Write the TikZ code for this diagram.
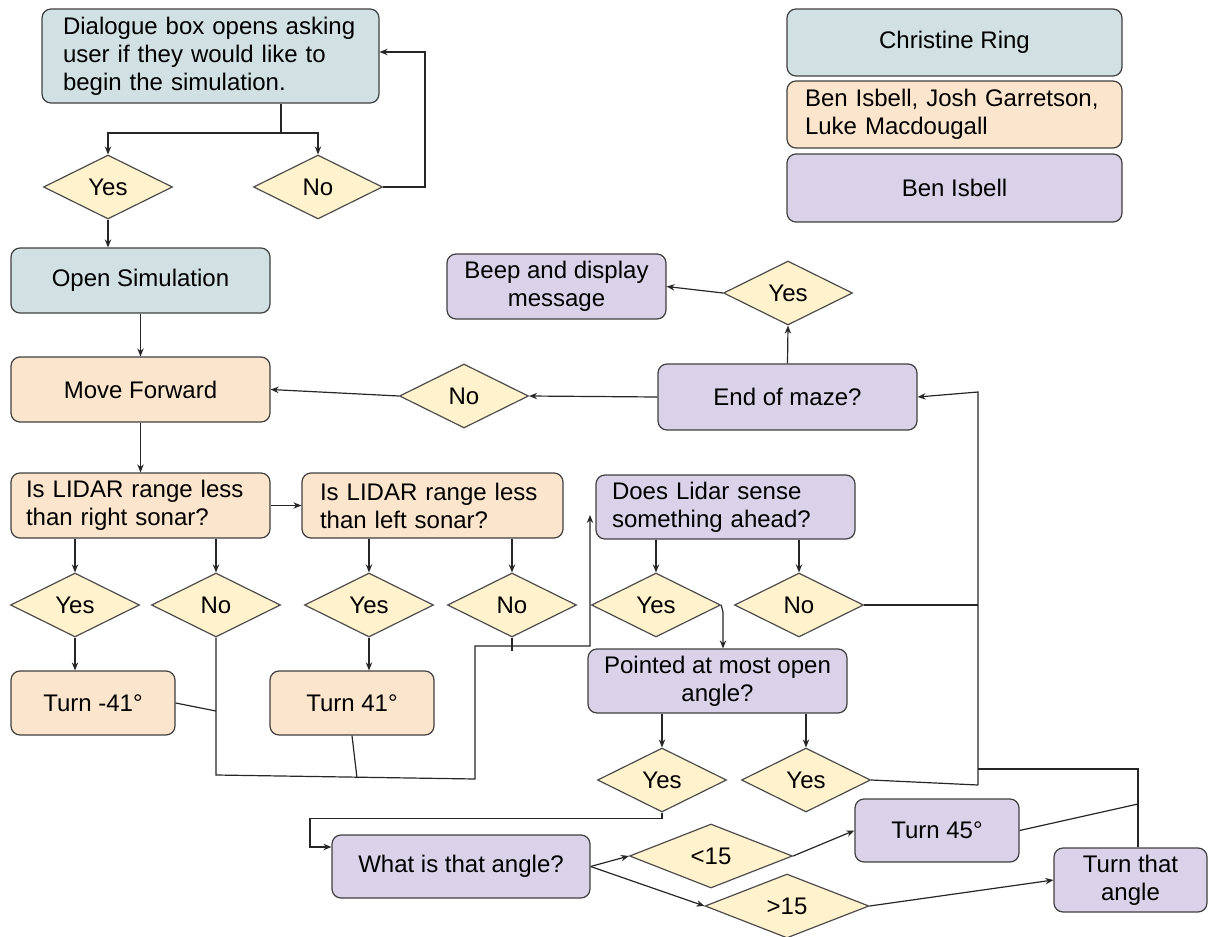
\documentclass[tikz,border=0pt]{standalone}
\usepackage{fontspec}
\setmainfont{Liberation Sans}
\usepackage{tikz}
\usetikzlibrary{arrows.meta, shapes.geometric}
\definecolor{boxblue}{HTML}{D0E0E3}
\definecolor{boxorange}{HTML}{FCE5CD}
\definecolor{boxpurple}{HTML}{D9D2E9}
\definecolor{choicefill}{HTML}{FFF2CC}

\begin{document}
\begin{tikzpicture}[x=0.5pt, y=-0.5pt,
    font=\fontsize{12}{14}\selectfont, line width=0.6pt,
    >={Stealth[length=4pt,width=3.2pt]},
    bluebox/.style={draw=black!75, fill=boxblue, rounded corners=4.5pt, inner ysep=2pt},
    orangebox/.style={draw=black!75, fill=boxorange, rounded corners=4.5pt, inner ysep=2pt},
    purplebox/.style={draw=black!75, fill=boxpurple, rounded corners=4.5pt, inner ysep=2pt},
    choice/.style={diamond, draw=black!70, fill=choicefill, inner sep=0pt,
      minimum width=64.5pt, minimum height=32pt},
    link/.style={draw=black!85}]
  \useasboundingbox (0,0) rectangle (1211,937);
  \node[bluebox, minimum width=167.5pt, minimum height=33.5pt] (key1) at (954.5,42.5) {Christine Ring};
  \node[orangebox, text width=149.5pt, inner xsep=9pt, minimum height=33.5pt, align=left] (key2) at (954.5,114.5) {Ben Isbell, Josh Garretson,\\Luke Macdougall};
  \node[purplebox, minimum width=167.5pt, minimum height=34pt] (key3) at (954.5,188) {Ben Isbell};
  \node[bluebox, text width=147.5pt, inner xsep=10.5pt, minimum height=47pt, align=left] (dlg) at (210.5,56) {Dialogue box opens asking\\user if they would like to\\begin the simulation.};
  \node[choice] (yes1) at (108,187) {Yes};
  \node[choice] (no1) at (318,187) {No};
  \node[bluebox, minimum width=129.5pt, minimum height=32.5pt] (open) at (140.5,280.5) {Open Simulation};
  \node[orangebox, minimum width=129.5pt, minimum height=32.5pt] (move) at (140.5,389.5) {Move Forward};
  \node[choice] (no2) at (464,396) {No};
  \node[purplebox, minimum width=129.5pt, minimum height=33pt] (maze) at (787.5,397) {End of maze?};
  \node[choice] (yes2) at (788,293) {Yes};
  \node[purplebox, minimum width=109.5pt, minimum height=32.5pt, align=center] (beep) at (556.5,286.5) {Beep and display\\message};
  \node[orangebox, text width=114.5pt, inner xsep=7.5pt, minimum height=32.5pt, align=left] (lidarr) at (140.5,505.5) {Is LIDAR range less\\than right sonar?};
  \node[orangebox, text width=112.5pt, inner xsep=9pt, minimum height=32.5pt, align=left] (lidarl) at (432.5,505.5) {Is LIDAR range less\\than left sonar?};
  \node[choice] (ryes) at (75,605) {Yes};
  \node[choice] (rno) at (216,605) {No};
  \node[choice] (lyes) at (369,605) {Yes};
  \node[choice] (lno) at (512,605) {No};
  \node[orangebox, minimum width=82pt, minimum height=32pt] (turnr) at (93,703) {Turn -41°};
  \node[orangebox, minimum width=82pt, minimum height=32pt] (turnl) at (352,703) {Turn 41°};
  \node[purplebox, text width=113.5pt, inner xsep=8pt, minimum height=32pt, align=left] (ahead) at (725.5,507) {Does Lidar sense\\something ahead?};
  \node[choice] (ayes) at (656,605) {Yes};
  \node[choice] (ano) at (799,605) {No};
  \node[purplebox, minimum width=129.5pt, minimum height=32pt, align=center] (pointed) at (717.5,681) {Pointed at most open\\angle?};
  \node[choice] (pyes1) at (662,780) {Yes};
  \node[choice] (pyes2) at (806,780) {Yes};
  \node[purplebox, minimum width=129pt, minimum height=31.5pt] (angle) at (461,866.5) {What is that angle?};
  \node[choice, minimum width=81.5pt] (less) at (711,856) {<15};
  \node[choice, minimum width=82pt] (more) at (787,906) {>15};
  \node[purplebox, minimum width=82pt, minimum height=31.5pt] (turn45) at (937,830.5) {Turn 45°};
  \node[purplebox, minimum width=76.5pt, minimum height=32pt, align=center] (turnthat) at (1130.5,880) {Turn that\\angle};

  \coordinate (split) at (281,133);
  \coordinate (back) at (425,52);
  \coordinate (m1) at (216,775);
  \coordinate (m2) at (475,779);
  \coordinate (m3) at (590,646);
  \coordinate (m4) at (590,515);
  \coordinate (j1) at (216,711);
  \coordinate (j2) at (357,778);
  \coordinate (k1) at (723,612);
  \coordinate (r1) at (978,392);
  \coordinate (r2) at (978,785);
  \coordinate (r3) at (1138,769);
  \coordinate (r4) at (1138,804);
  \coordinate (w2) at (310,847);

  \draw[link] (dlg.south -| split) -- (split);
  \draw[link,->] (split) -| (yes1.north);
  \draw[link,->] (split) -| (no1.north);
  \draw[link,->] (no1.east) -| (back) -- (dlg.east |- back);
  \draw[link,->] (yes1.south) -- (yes1.south |- open.north);
  \draw[link,->] (open) -- (move);
  \draw[link,->] (move) -- (lidarr);
  \draw[link,->] (lidarr) -- (lidarl);
  \draw[link,->] (lidarr.south -| ryes) -- (ryes.north);
  \draw[link,->] (lidarr.south -| rno) -- (rno.north);
  \draw[link,->] (lidarl.south -| lyes) -- (lyes.north);
  \draw[link,->] (lidarl.south -| lno) -- (lno.north);
  \draw[link,->] (ryes.south) -- (ryes.south |- turnr.north);
  \draw[link,->] (lyes.south) -- (lyes.south |- turnl.north);
  \draw[link] (turnr.east) -- (j1);
  \draw[link] (turnl.south) -- (j2);
  \draw[link] (lno.south) -- ++(0,13);
  \draw[link,->] (rno.south) -- (m1) -- (m2) |- (m3) -- (m4);
  \draw[link,->] (no2.west) -- (move.east);
  \draw[link,->] (maze.west) -- (no2.east);
  \draw[link,->] (maze.north) -- (yes2.south);
  \draw[link,->] (yes2.west) -- (beep.east);
  \draw[link,->] (ahead.south -| ayes) -- (ayes.north);
  \draw[link,->] (ahead.south -| ano) -- (ano.north);
  \draw[link,->] (ayes.east) -- (k1) -- (k1 |- pointed.north);
  \draw[link,->] (pointed.south -| pyes1) -- (pyes1.north);
  \draw[link,->] (pointed.south -| pyes2) -- (pyes2.north);
  \draw[link,->] (r2) -- (r1) -- (maze.east);
  \draw[link] (ano.east) -- (ano.east -| r1);
  \draw[link] (pyes2.east) -- (r2);
  \draw[link] (r1 |- r3) -- (r3) -- (r3 |- turnthat.north);
  \draw[link] (turn45.east) -- (r4);
  \draw[link,->] (pyes1.south) -- ++(0,6) -| (w2) -- (w2 -| angle.west);
  \draw[link,->] (angle.east) -- (less.west);
  \draw[link,->] (angle.east) -- (more.west);
  \draw[link,->] (less.east) -- (turn45.west);
  \draw[link,->] (more.east) -- (turnthat.west);
\end{tikzpicture}
\end{document}
